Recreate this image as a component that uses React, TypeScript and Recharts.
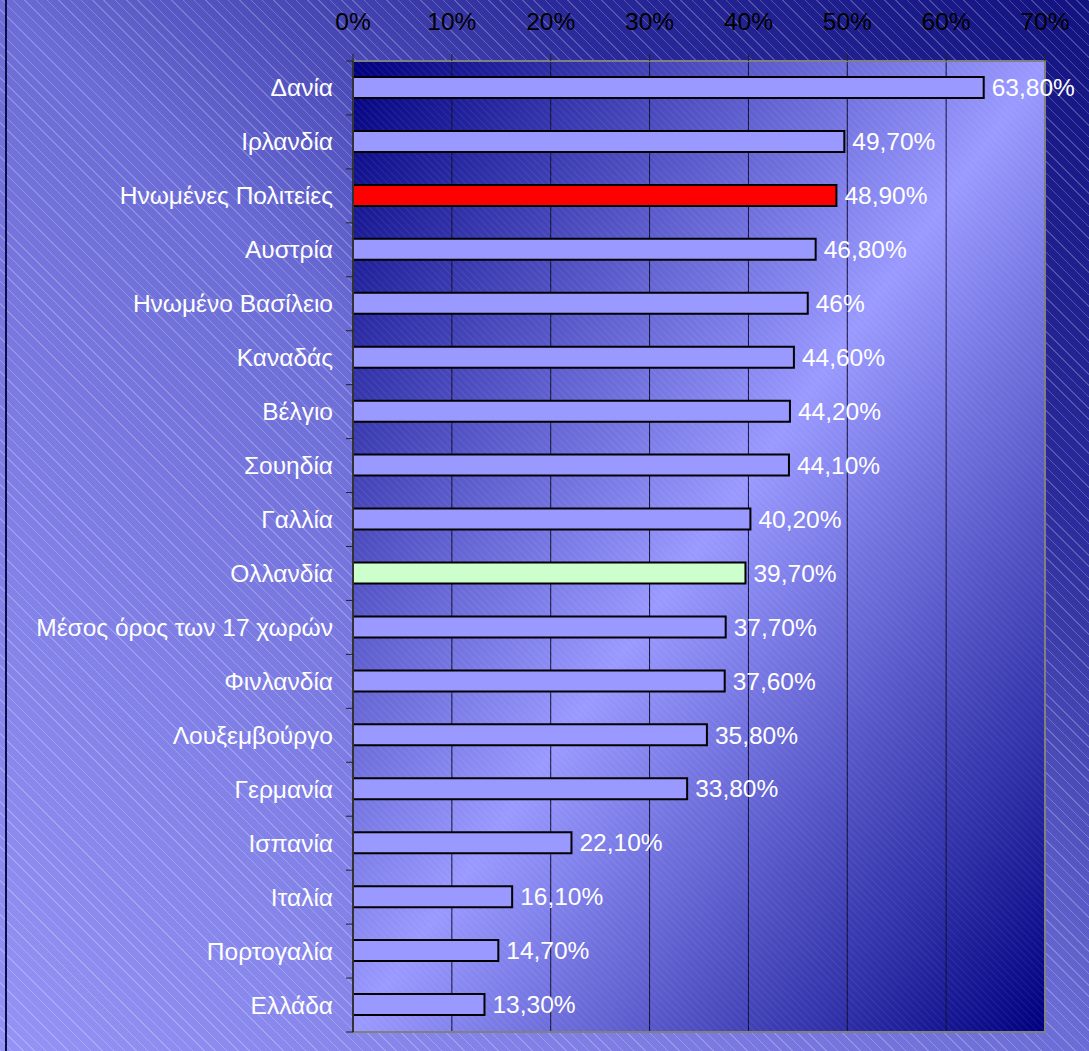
import React from 'react';
import { BarChart, Bar, XAxis, YAxis, CartesianGrid, Cell, LabelList, ReferenceArea } from 'recharts';

const CATEGORIES = [
  'Δανία', 'Ιρλανδία', 'Ηνωμένες Πολιτείες', 'Αυστρία', 'Ηνωμένο Βασίλειο', 'Καναδάς',
  'Βέλγιο', 'Σουηδία', 'Γαλλία', 'Ολλανδία', 'Μέσος όρος των 17 χωρών', 'Φινλανδία',
  'Λουξεμβούργο', 'Γερμανία', 'Ισπανία', 'Ιταλία', 'Πορτογαλία', 'Ελλάδα',
];
const VALUES = [63.8, 49.7, 48.9, 46.8, 46, 44.6, 44.2, 44.1, 40.2, 39.7, 37.7, 37.6, 35.8, 33.8, 22.1, 16.1, 14.7, 13.3];
const X_TICKS = [0, 10, 20, 30, 40, 50, 60, 70];
const HIGHLIGHTS: Record<string, string> = {
  'Ηνωμένες Πολιτείες': '#ff0000',
  'Ολλανδία': '#ccffcc',
};
const DEFAULT_FILL = '#9999ff';

const data = CATEGORIES.map((name, i) => ({ name, value: VALUES[i] }));

const W = 1089;
const H = 1051;
const MARGIN = { top: 0, right: 44, bottom: 19, left: 0 };
const YAXIS_W = 353;
const XAXIS_H = 61;
const AXIS_X = MARGIN.left + YAXIS_W;
const PLOT_H = H - MARGIN.top - MARGIN.bottom - XAXIS_H;
const FONT = '"Liberation Sans", Arial, "DejaVu Sans", sans-serif';
const FS = 24.5;

const fmt = (v: number) =>
  Number.isInteger(v) ? `${v}%` : `${v.toFixed(2).replace('.', ',')}%`;

const YTick = (props: any) => {
  const { y, payload, index } = props;
  const band = PLOT_H / CATEGORIES.length;
  return (
    <g>
      <text
        x={AXIS_X - 20}
        y={y}
        textAnchor="end"
        dominantBaseline="central"
        fill="#ffffff"
        fontSize={FS}
        fontFamily={FONT}
      >
        {payload.value}
      </text>
      <line x1={AXIS_X - 7} x2={AXIS_X} y1={y - band / 2} y2={y - band / 2} stroke="#222" strokeWidth={1} />
      {index === CATEGORIES.length - 1 && (
        <line x1={AXIS_X - 7} x2={AXIS_X} y1={y + band / 2} y2={y + band / 2} stroke="#222" strokeWidth={1} />
      )}
    </g>
  );
};

export default function App() {
  return (
    <div
      style={{
        position: 'absolute',
        left: 0,
        top: 0,
        width: W,
        height: H,
        fontFamily: FONT,
        background: [
          'linear-gradient(to right, transparent 5px, #0c0c48 5px, #0c0c48 7px, transparent 7px)',
          'repeating-linear-gradient(45deg, rgba(255,255,255,0.22) 0px, rgba(255,255,255,0.22) 1px, transparent 1px, transparent 8px)',
          'linear-gradient(to bottom left, #121280 0%, #2a2a9a 25%, #6c6cd6 50%, #9494f6 100%)',
        ].join(','),
      }}
    >
      <BarChart width={W} height={H} data={data} layout="vertical" margin={MARGIN} barSize={21}>
        <defs>
          <linearGradient id="plotGrad" x1="0" y1="0" x2="1" y2="1">
            <stop offset="0%" stopColor="#000080" />
            <stop offset="50%" stopColor="#9999ff" />
            <stop offset="100%" stopColor="#000080" />
          </linearGradient>
          <pattern id="plotHatch" width="5" height="5" patternUnits="userSpaceOnUse" patternTransform="rotate(45)">
            <line x1="0" y1="0" x2="5" y2="0" stroke="rgba(255,255,255,0.14)" strokeWidth="1" />
          </pattern>
        </defs>
        <CartesianGrid horizontal={false} stroke="#101035" strokeOpacity={1} fill="url(#plotGrad)" fillOpacity={1} />
        <ReferenceArea
          x1={X_TICKS[0]}
          x2={X_TICKS[X_TICKS.length - 1]}
          fill="url(#plotHatch)"
          fillOpacity={1}
          stroke="#808080"
          strokeWidth={2}
          ifOverflow="visible"
        />
        <XAxis
          type="number"
          orientation="top"
          domain={[X_TICKS[0], X_TICKS[X_TICKS.length - 1]]}
          ticks={X_TICKS}
          tickFormatter={(v: number) => `${v}%`}
          height={XAXIS_H}
          tickSize={7}
          tickMargin={24}
          axisLine={false}
          tickLine={{ stroke: '#222' }}
          tick={{ fill: '#000000', fontSize: FS, fontFamily: FONT }}
          interval={0}
        />
        <YAxis
          type="category"
          dataKey="name"
          width={YAXIS_W}
          tick={<YTick />}
          tickLine={false}
          axisLine={{ stroke: '#333', strokeWidth: 2 }}
          interval={0}
        />
        <Bar dataKey="value" stroke="#000000" strokeWidth={2} isAnimationActive={false}>
          {data.map((d) => (
            <Cell key={d.name} fill={HIGHLIGHTS[d.name] || DEFAULT_FILL} />
          ))}
          <LabelList
            dataKey="value"
            position="right"
            offset={8}
            fill="#ffffff"
            fontSize={FS}
            fontFamily={FONT}
            formatter={(v: any) => fmt(Number(v))}
          />
        </Bar>
      </BarChart>
    </div>
  );
}
